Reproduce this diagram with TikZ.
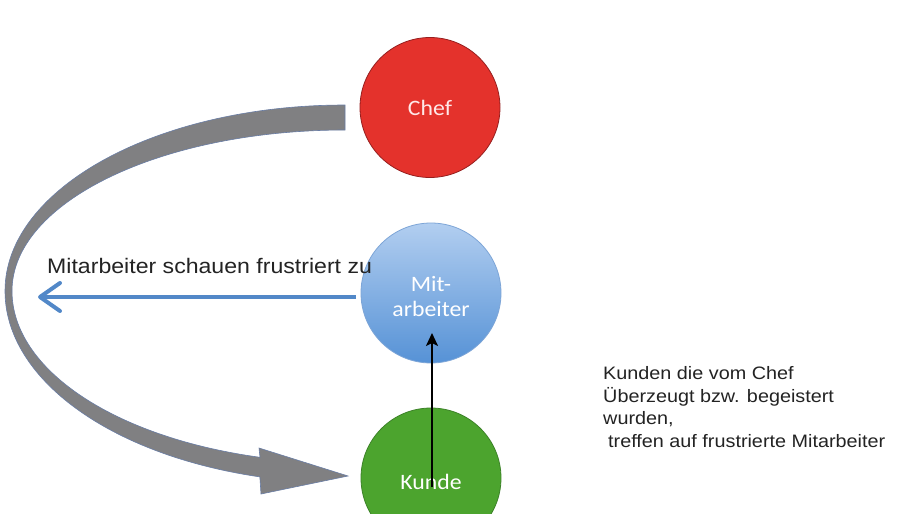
\documentclass[tikz,border=0pt]{standalone}
\usepackage{fontspec}
\setmainfont{Liberation Sans}
\newfontfamily\arialx[FakeStretch=1.1]{Liberation Sans}
\newfontfamily\calx[FakeStretch=1.08]{Carlito}
\usetikzlibrary{arrows.meta}
\definecolor{chefred}{RGB}{228,50,44}
\definecolor{chefedge}{RGB}{150,30,30}
\definecolor{mittop}{RGB}{178,206,240}
\definecolor{mitbot}{RGB}{86,146,214}
\definecolor{mitedge}{RGB}{125,165,215}
\definecolor{kundegreen}{RGB}{76,164,46}
\definecolor{kundeedge}{RGB}{60,130,40}
\definecolor{ribbon}{RGB}{128,128,130}
\definecolor{ribbonedge}{RGB}{105,125,165}
\definecolor{bluearrow}{RGB}{82,136,200}
\definecolor{txt}{RGB}{35,35,35}
\newcommand{\lowertext}[2]{\raisebox{-#1}[\height][\depth]{#2}}
\tikzset{
  person/.style={circle, minimum size=140pt, inner sep=0pt, line width=0.8pt, align=center, text=white},
  label text/.style={font=\calx\fontsize{22}{25}\selectfont},
  plain text/.style={text=txt, inner sep=0pt, align=left}
}
\begin{document}
\begin{tikzpicture}[x=1pt,y=-1pt]
\useasboundingbox (0,0) rectangle (900,514);
\clip (0,0) rectangle (900,514);
\fill[white] (0,0) rectangle (900,514);

% curved grey ribbon arrow
\filldraw[fill=ribbon, draw=ribbonedge, line width=0.6pt]
  (345,105) arc[start angle=270, end angle=180, x radius=340, y radius=186]
            arc[start angle=180, end angle=104.5, x radius=340, y radius=192]
  -- (261,494) -- (348,476) -- (259,448) -- (260,457.3)
  arc[start angle=104.79, end angle=180, x radius=333, y radius=172]
  arc[start angle=180, end angle=270, x radius=333, y radius=161]
  -- cycle;

% circles
\node[person, fill=chefred, draw=chefedge, text={rgb,255:red,255;green,232;blue,232}, label text] (chef) at (430,107.5) {Chef};
\node[person, top color=mittop, bottom color=mitbot, draw=mitedge, label text] (mit) at (431,293) {\lowertext{3.5pt}{Mit-}\\\lowertext{3.5pt}{arbeiter}};
\node[person, fill=kundegreen, draw=kundeedge, label text] (kunde) at (431,478) {\lowertext{4pt}{Kunde}};

% blue arrow
\coordinate (bstart) at (356,297);
\coordinate (bend) at (38,297);
\draw[bluearrow, line width=4pt, -{Straight Barb[length=20pt, width=28pt, round]}] (bstart) -- (bend);

% black arrow
\coordinate (kup) at (432,487);
\coordinate (mdown) at (432,333);
\draw[black, line width=2.2pt, -{Stealth[length=13pt, width=12pt, inset=3pt]}] (kup) -- (mdown);

% texts
\node[plain text, anchor=base west, font=\arialx\fontsize{21}{24}\selectfont] (lbl) at (47,273) {Mitarbeiter schauen frustriert zu};
\node[plain text, anchor=base west, font=\arialx\fontsize{18}{22.5}\selectfont] (note) at (603,447)
 {Kunden die vom Chef\\Überzeugt bzw. begeistert\\wurden,\\\hspace{5pt}treffen auf frustrierte Mitarbeiter};
\end{tikzpicture}
\end{document}
